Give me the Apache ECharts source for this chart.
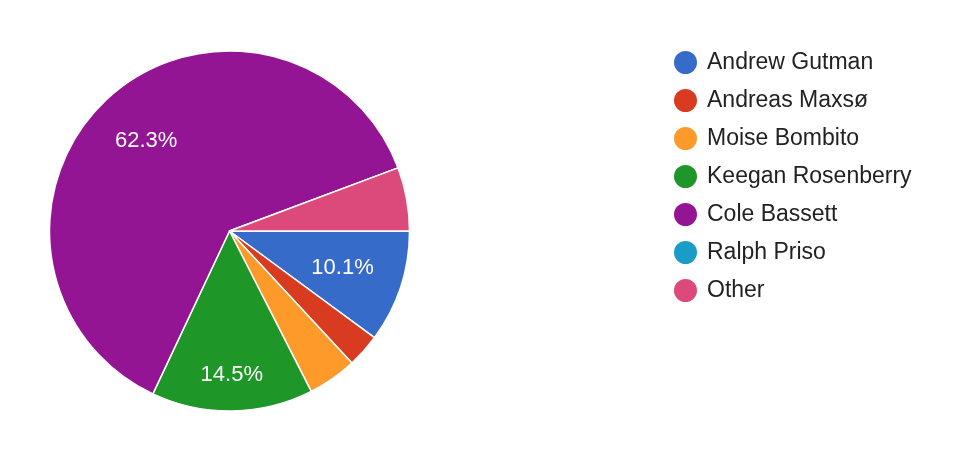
<!DOCTYPE html>
<html>
<head>
<meta charset="utf-8">
<script src="https://cdn.jsdelivr.net/npm/echarts@6/dist/echarts.min.js"></script>
<style>html,body{margin:0;padding:0;background:#fff}#c{width:972px;height:460px}</style>
</head>
<body>
<div id="c"></div>
<script>
const names = ['Andrew Gutman', 'Andreas Maxsø', 'Moise Bombito', 'Keegan Rosenberry', 'Cole Bassett', 'Ralph Priso', 'Other'];
const values = [10.1, 3.0, 4.4, 14.5, 62.3, 0, 5.7];
const colors = ['#376bc9', '#d93b21', '#fd9a2a', '#1e9628', '#941594', '#1a9cc7', '#db4a7b'];

const center = [229.5, 231];
const data = names.map((n, i) => ({ name: n, value: values[i] }));
const fmt = p => p.percent.toFixed(1) + '%';
const FONT = 'Liberation Sans, Arial, sans-serif';

function labelOverlay(radius, shown) {
  return {
    type: 'pie', radius: [0, radius], center: center, startAngle: 0, clockwise: true,
    silent: true, animation: false, z: 5,
    itemStyle: { color: 'rgba(0,0,0,0)', borderWidth: 0 },
    emphasis: { disabled: true },
    labelLine: { show: false },
    data: data.map((d, i) => ({
      name: d.name, value: d.value,
      label: { show: shown.includes(i), position: 'inside', formatter: fmt, color: '#fff', fontSize: 22, fontFamily: FONT }
    }))
  };
}

const chart = echarts.init(document.getElementById('c'), null, { renderer: 'canvas' });
chart.setOption({
  animation: false,
  color: colors,
  textStyle: { fontFamily: FONT },
  legend: {
    orient: 'vertical', left: 667, top: 44,
    data: names, icon: 'circle', itemWidth: 25, itemHeight: 25, itemGap: 11,
    textStyle: { fontSize: 23, color: '#222222', padding: [0, 0, 0, 4] },
    selectedMode: false
  },
  series: [
    {
      type: 'pie', radius: 180, center: center, startAngle: 0, clockwise: true,
      itemStyle: { borderColor: '#fff', borderWidth: 1.5 },
      label: { show: false }, labelLine: { show: false },
      emphasis: { disabled: true },
      data: data
    },
    labelOverlay(232, [0]),
    labelOverlay(240, [4]),
    labelOverlay(282, [3])
  ]
});
</script>
</body>
</html>
